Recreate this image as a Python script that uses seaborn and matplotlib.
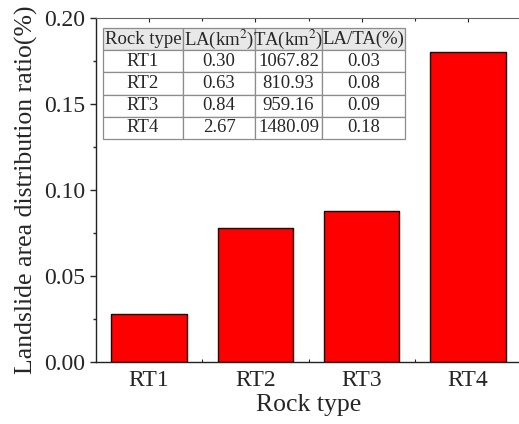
import matplotlib
matplotlib.use("Agg")
import matplotlib.pyplot as plt
from matplotlib.ticker import MultipleLocator, FixedLocator
import seaborn as sns

# Landslide area (LA) and total area (TA) per rock type
rock_types = ["RT1", "RT2", "RT3", "RT4"]
landslide_area = [0.30, 0.63, 0.84, 2.67]          # km^2
total_area = [1067.82, 810.93, 959.16, 1480.09]     # km^2
distribution_ratio = [0.0281, 0.0777, 0.0876, 0.1804]  # LA/TA (%)

table_header = ["Rock type", "LA(km$^{2}$)", "TA(km$^{2}$)", "LA/TA(%)"]

sns.set_style("ticks")
plt.rcParams["font.family"] = ["Liberation Serif", "DejaVu Serif"]
plt.rcParams["mathtext.fontset"] = "stix"

W, H = 519, 424
fig = plt.figure(figsize=(W / 100, H / 100), dpi=100)
ax_left, ax_right, ax_top, ax_bottom = 96, 521, 18, 362
ax = fig.add_axes([ax_left / W, 1 - ax_bottom / H,
                   (ax_right - ax_left) / W, (ax_bottom - ax_top) / H])

sns.barplot(x=rock_types, y=distribution_ratio, color="#ff0000", saturation=1,
            width=0.71, edgecolor="#1a0000", linewidth=1.0, ax=ax)

ax.set_xlim(-0.5, 3.5)
ax.set_ylim(0, 0.20)
ax.yaxis.set_major_locator(MultipleLocator(0.05))
ax.yaxis.set_minor_locator(MultipleLocator(0.025))
ax.set_yticklabels([f"{v:.2f}" for v in ax.get_yticks()])
ax.xaxis.set_minor_locator(FixedLocator([0.5, 1.5, 2.5]))

ax.tick_params(axis="y", which="major", direction="out", length=4, width=1,
               labelsize=17, pad=4)
ax.tick_params(axis="y", which="minor", direction="out", length=2.5, width=1)
ax.tick_params(axis="x", which="major", direction="in", length=3, width=0.8,
               labelsize=17, top=True, pad=6)
ax.tick_params(axis="x", which="minor", direction="in", length=2, width=0.8,
               top=True)

for side in ["left", "bottom"]:
    ax.spines[side].set_color("#222222")
    ax.spines[side].set_linewidth(1.0)
ax.spines["top"].set_visible(True)
ax.spines["top"].set_color("#666666")
ax.spines["top"].set_linewidth(0.8)
ax.spines["right"].set_visible(True)

ax.set_xlabel("Rock type", fontsize=18.5, labelpad=2)
ax.set_ylabel("Landslide area distribution ratio(%)", fontsize=18.5, labelpad=4)

# Summary table in the upper-left corner
rows = [[rt, f"{la:.2f}", f"{ta:.2f}", f"{r:.2f}"]
        for rt, la, ta, r in zip(rock_types, landslide_area, total_area,
                                 distribution_ratio)]
col_px = [80, 72, 67, 83]
tot = sum(col_px)
tbl_left, tbl_right, tbl_top, tbl_bottom = 103, 405, 28, 139
axw, axh = ax_right - ax_left, ax_bottom - ax_top
bbox = [(tbl_left - ax_left) / axw, (ax_bottom - tbl_bottom) / axh,
        (tbl_right - tbl_left) / axw, (tbl_bottom - tbl_top) / axh]
tbl = ax.table(cellText=rows, colLabels=table_header, cellLoc="center",
               colWidths=[c / tot * bbox[2] for c in col_px], bbox=bbox)
tbl.auto_set_font_size(False)
for (r, c), cell in tbl.get_celld().items():
    cell.set_edgecolor("#8c8c8c")
    cell.set_linewidth(0.9)
    cell.set_text_props(fontsize=13.5)
    cell.PAD = 0.02
    if r == 0:
        cell.set_facecolor("#e8e8e8")
    else:
        cell.set_facecolor("white")

fig.savefig("out.png", dpi=100)
